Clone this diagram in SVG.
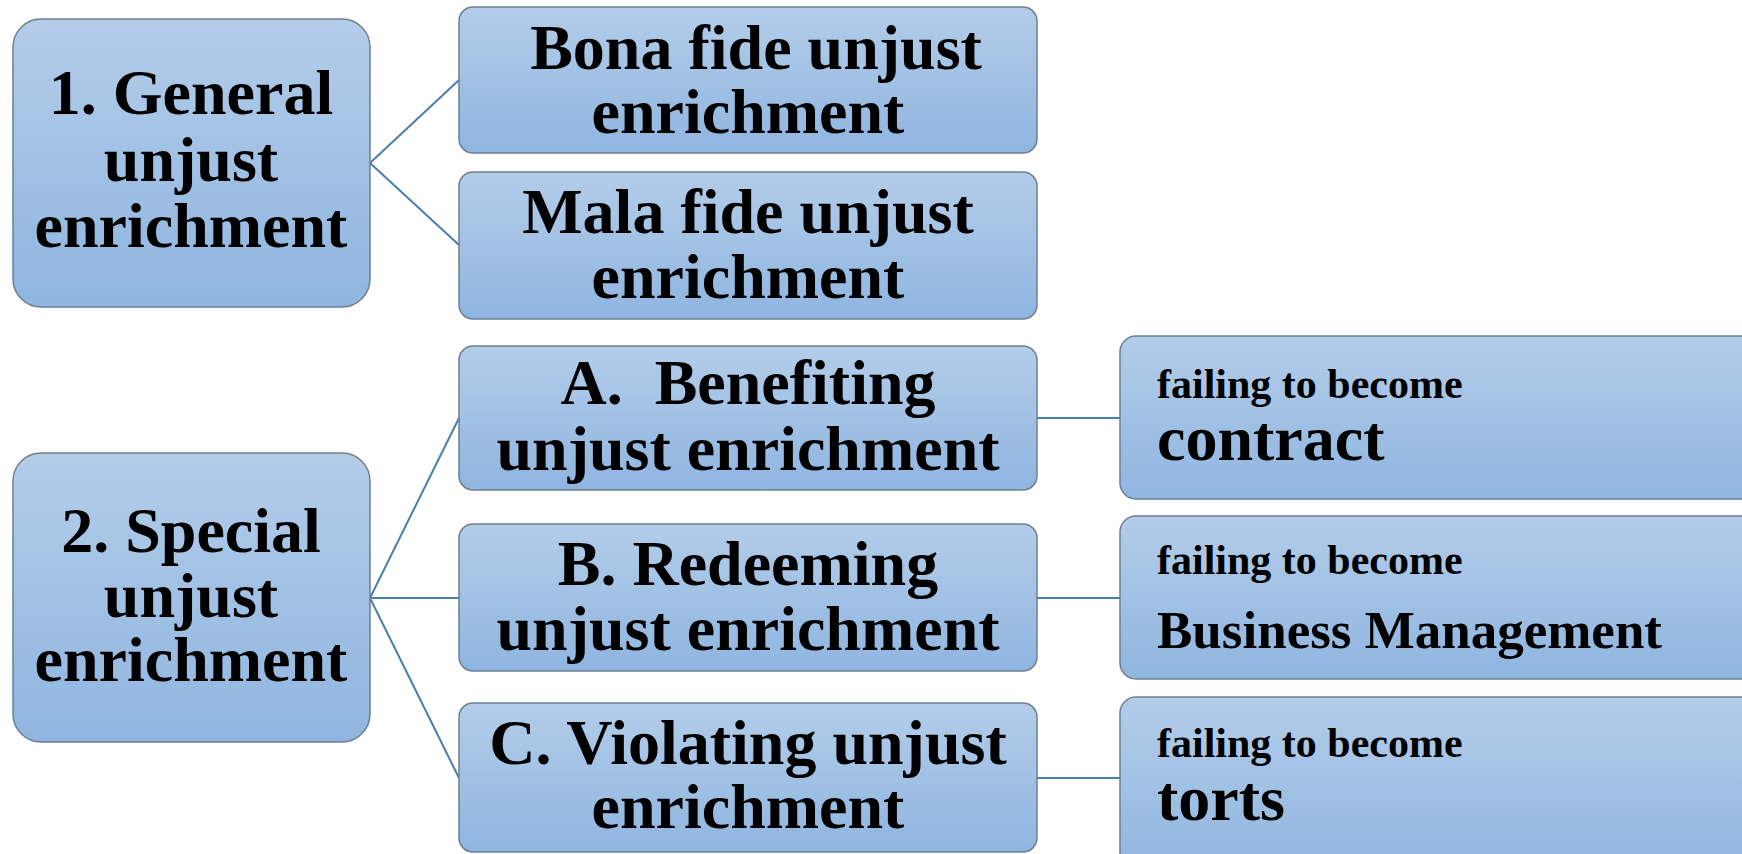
<svg xmlns="http://www.w3.org/2000/svg" width="1742" height="854" viewBox="0 0 1742 854">
<defs>
<linearGradient id="g" x1="0" y1="0" x2="0" y2="1">
<stop offset="0" stop-color="#b3cde9"/>
<stop offset="1" stop-color="#8fb5e0"/>
</linearGradient>
<style>
.box{fill:url(#g);stroke:#6e7f90;stroke-width:1.5}
.t{font-family:"Liberation Serif","Times New Roman",serif;font-weight:bold;fill:#000}
.big{font-size:64px;text-anchor:middle}
.sm{font-size:42px}
.lg{font-size:64px}
.md{font-size:53px}
.c{stroke:#4a7db0;stroke-width:2;fill:none}
</style>
</defs>
<rect width="1742" height="854" fill="#fff"/>
<g id="connectors">
<line class="c" x1="370" y1="163" x2="459" y2="80"/>
<line class="c" x1="370" y1="163" x2="459" y2="245"/>
<line class="c" x1="370" y1="598" x2="459" y2="418"/>
<line class="c" x1="370" y1="598" x2="459" y2="598"/>
<line class="c" x1="370" y1="598" x2="459" y2="778"/>
<line class="c" x1="1037" y1="418" x2="1120" y2="418"/>
<line class="c" x1="1037" y1="598" x2="1120" y2="598"/>
<line class="c" x1="1037" y1="778" x2="1120" y2="778"/>
</g>
<g id="n1">
<rect class="box" x="13" y="19" width="357" height="288" rx="28"/>
<text class="t big"><tspan x="191" y="114">1. General</tspan><tspan x="191" y="181">unjust</tspan><tspan x="191" y="247">enrichment</tspan></text>
</g>
<g id="n1a">
<rect class="box" x="459" y="7" width="578" height="146" rx="14"/>
<text class="t big"><tspan x="756" y="69">Bona fide unjust</tspan><tspan x="748" y="133">enrichment</tspan></text>
</g>
<g id="n1b">
<rect class="box" x="459" y="172" width="578" height="147" rx="14"/>
<text class="t big"><tspan x="748" y="233">Mala fide unjust</tspan><tspan x="748" y="298">enrichment</tspan></text>
</g>
<g id="n2">
<rect class="box" x="13" y="453" width="357" height="289" rx="28"/>
<text class="t big"><tspan x="191" y="552">2. Special</tspan><tspan x="191" y="617">unjust</tspan><tspan x="191" y="681">enrichment</tspan></text>
</g>
<g id="nA">
<rect class="box" x="459" y="346" width="578" height="144" rx="14"/>
<text class="t big"><tspan x="748" y="404" xml:space="preserve">A.  Benefiting</tspan><tspan x="748" y="470">unjust enrichment</tspan></text>
</g>
<g id="nB">
<rect class="box" x="459" y="524" width="578" height="147" rx="14"/>
<text class="t big"><tspan x="748" y="585">B. Redeeming</tspan><tspan x="748" y="650">unjust enrichment</tspan></text>
</g>
<g id="nC">
<rect class="box" x="459" y="703" width="578" height="149" rx="14"/>
<text class="t big"><tspan x="748" y="764">C. Violating unjust</tspan><tspan x="748" y="828">enrichment</tspan></text>
</g>
<g id="nA2">
<rect class="box" x="1120" y="336" width="660" height="163" rx="16"/>
<text class="t sm" x="1157" y="398">failing to become</text>
<text class="t lg" x="1157" y="460">contract</text>
</g>
<g id="nB2">
<rect class="box" x="1120" y="516" width="660" height="163" rx="16"/>
<text class="t sm" x="1157" y="574">failing to become</text>
<text class="t md" x="1157" y="648">Business Management</text>
</g>
<g id="nC2">
<rect class="box" x="1120" y="697" width="660" height="180" rx="16"/>
<text class="t sm" x="1157" y="757">failing to become</text>
<text class="t lg" x="1157" y="820">torts</text>
</g>
</svg>
